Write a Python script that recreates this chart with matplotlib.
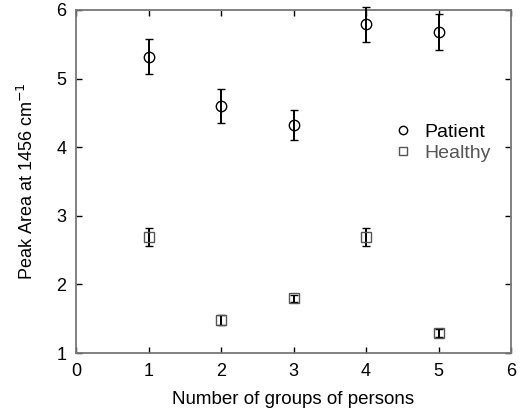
import matplotlib
matplotlib.use("Agg")
import matplotlib.pyplot as plt
from matplotlib.lines import Line2D

plt.rcParams['font.family'] = ['Liberation Sans', 'DejaVu Sans']

groups = [1, 2, 3, 4, 5]
patient = [5.32, 4.60, 4.32, 5.79, 5.68]
patient_err = [0.25, 0.25, 0.22, 0.26, 0.26]
healthy = [2.69, 1.48, 1.80, 2.69, 1.29]
healthy_err = [0.13, 0.07, 0.05, 0.13, 0.06]

fig = plt.figure(figsize=(5.22, 4.18), dpi=100)
ax = fig.add_axes([76 / 522, 1 - 353 / 418, 435 / 522, 343 / 418])

ax.errorbar(groups, patient, yerr=patient_err, fmt='o', ms=7.5, mfc='none',
            mec='black', mew=1.0, ecolor='black', elinewidth=1.4, capsize=3,
            capthick=1.6, clip_on=False, zorder=3)
ax.errorbar(groups, healthy, yerr=healthy_err, fmt='s', ms=6.5, mfc='none',
            mec='#555555', mew=1.0, ecolor='black', elinewidth=1.4, capsize=3,
            capthick=1.6, clip_on=False, zorder=3)

ax.set_xlim(0, 6)
ax.set_ylim(1, 6)
ax.set_xticks(range(0, 7))
ax.set_yticks(range(1, 7))
ax.tick_params(direction='in', top=True, right=True, length=4, width=1,
               labelsize=13, pad=7)
for s in ax.spines.values():
    s.set_color('#777777')
    s.set_linewidth(1.3)

ax.set_xlabel('Number of groups of persons', fontsize=13.5, labelpad=8)
ax.set_ylabel('Peak Area at 1456 cm$^{-1}$', fontsize=13, labelpad=14)

handles = [Line2D([], [], ls='none', marker='o', ms=6, mfc='none', mec='black'),
           Line2D([], [], ls='none', marker='s', ms=5.5, mfc='none', mec='#555555')]
leg = ax.legend(handles, ['Patient', 'Healthy'], loc='upper left',
                bbox_to_anchor=(0.69, 0.72), frameon=False, fontsize=14,
                handletextpad=0.6, labelspacing=0.15, handlelength=1.0)
leg.get_texts()[1].set_color('#555555')

fig.savefig('out.png', dpi=100)
